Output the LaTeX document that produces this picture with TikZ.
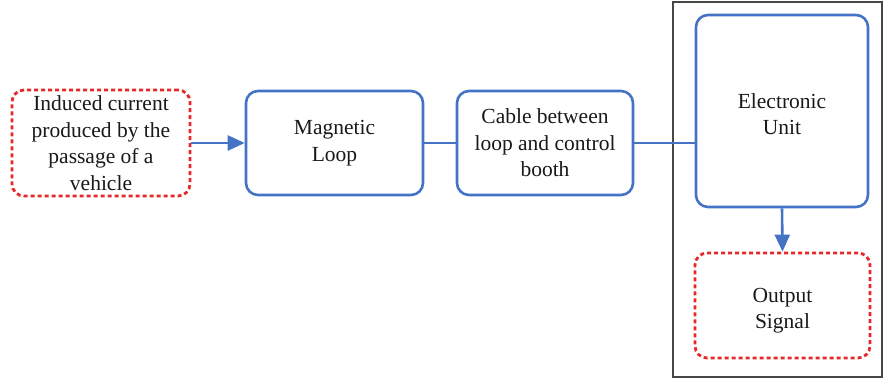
\documentclass[tikz,border=0pt]{standalone}
\usepackage{fontspec}
\setmainfont{Liberation Serif}
\usetikzlibrary{arrows.meta}
\definecolor{bblue}{RGB}{68,114,196}
\definecolor{rred}{RGB}{232,40,40}
\definecolor{fgray}{RGB}{70,70,70}
\begin{document}
\begin{tikzpicture}[x=1pt,y=-1pt,
  txt/.style={font=\fontsize{21.5}{26.5}\selectfont, align=center, text=black!90},
  bluebox/.style={txt, draw=bblue, line width=2.6pt, rounded corners=12pt, fill=white},
  redbox/.style={txt, draw=rred, line width=2.8pt, rounded corners=12pt, dash pattern=on 4pt off 3pt, fill=white},
  conn/.style={draw=bblue, line width=2.6pt},
  arr/.style={conn, -{Triangle[length=17pt,width=15pt]}}]
\useasboundingbox (0,0) rectangle (883,379);
\node[draw=fgray, line width=1.3pt, minimum width=209pt, minimum height=375pt, inner sep=0pt] (frame) at (777.5,189.5) {};
\node[redbox, minimum width=178pt, minimum height=106pt] (in) at (101,143) {Induced current\\produced by the\\passage of a\\vehicle};
\node[bluebox, minimum width=177pt, minimum height=104pt] (ml) at (334.5,143) {Magnetic\\Loop};
\node[bluebox, minimum width=176pt, minimum height=104pt] (cb) at (545,143) {Cable between\\loop and control\\booth};
\node[bluebox, minimum width=172pt, minimum height=192pt,
  label={[txt,yshift=-3pt]center:Electronic\\Unit}] (eu) at (782,111) {};
\node[redbox, minimum width=175pt, minimum height=105pt,
  label={[txt,yshift=-5pt]center:Output\\Signal}] (out) at (782.5,305.5) {};
\draw[arr] (in.east) -- (ml.west);
\draw[conn] (ml.east) -- (cb.west);
\draw[conn] (cb.east) -- (cb.east -| eu.west);
\draw[arr] (eu.south) -- (out.north);
\end{tikzpicture}
\end{document}
